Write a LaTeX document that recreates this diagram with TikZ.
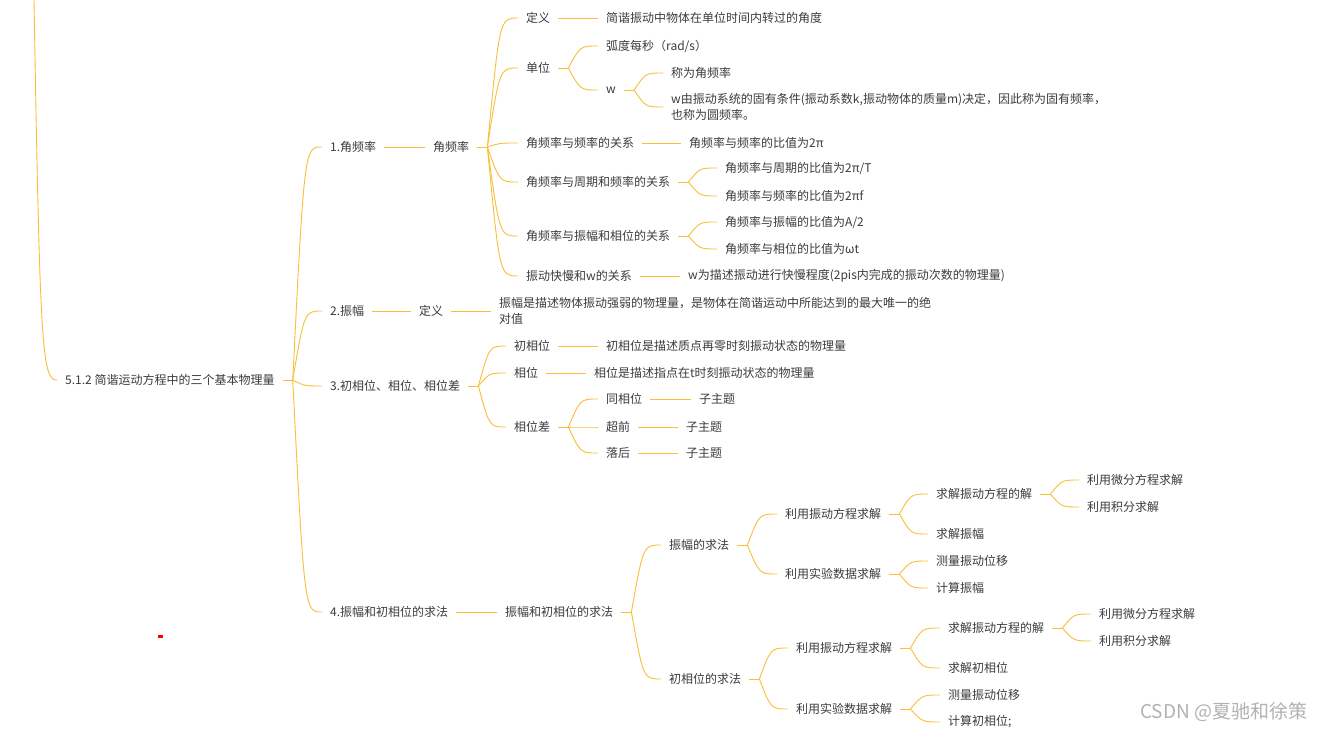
\documentclass[tikz,border=0pt]{standalone}
\usepackage{fontspec}
\setmainfont{Noto Sans CJK SC}
\usetikzlibrary{calc}
\definecolor{lc}{RGB}{250,190,56}
\definecolor{txt}{HTML}{3C3C3C}
\definecolor{wm}{RGB}{178,178,178}
\tikzset{
  nd/.style={anchor=west, xshift=-8pt, inner xsep=8pt, inner ysep=2pt, text=txt,
    font=\fontsize{12}{16.5}\selectfont, align=left},
  ln/.style={draw=lc, line width=0.9pt},
  br/.style={to path={let \p1=(\tikztostart), \p2=(\tikztotarget) in
    .. controls ({\x1+0.4*(\x2-\x1)},\y2) .. (\tikztotarget)}}
}
\newcommand\mmfork[2]{%
  \draw[ln] (#1.east) -- ++(10,0) coordinate (#1j);
  \foreach \c in {#2} {\draw[ln] (#1j) to[br] (\c.west);}
}
\newcommand\mmline[2]{\draw[ln] (#1.east) -- (#2.west);}
\begin{document}
\begin{tikzpicture}[x=1pt,y=-1pt]
\useasboundingbox (0,0) rectangle (1326,730);
\fill[white] (0,0) rectangle (1326,730);

% root and its parent line
\node[nd] (root) at (65,380) {5.1.2 简谐运动方程中的三个基本物理量};
\coordinate (top) at (34,0);
\draw[ln] (top) .. controls (40,350) and (42,380) .. (root.west);

% level 1
\node[nd] (a1) at (330,147) {1.角频率};
\node[nd] (a2) at (330,311) {2.振幅};
\node[nd] (a3) at (330,386) {3.初相位、相位、相位差};
\node[nd] (a4) at (330,612) {4.振幅和初相位的求法};
\mmfork{root}{a1,a2,a3,a4}

% 1. angular frequency
\node[nd] (b1) at (433,147) {角频率};
\mmline{a1}{b1}
\node[nd] (c1) at (526,18) {定义};
\node[nd] (c2) at (526,68) {单位};
\node[nd] (c3) at (526,143) {角频率与频率的关系};
\node[nd] (c4) at (526,182) {角频率与周期和频率的关系};
\node[nd] (c5) at (526,236) {角频率与振幅和相位的关系};
\node[nd] (c6) at (526,276) {振动快慢和w的关系};
\mmfork{b1}{c1,c2,c3,c4,c5,c6}
\node[nd] (d1) at (606,18) {简谐振动中物体在单位时间内转过的角度};
\mmline{c1}{d1}
\node[nd] (d2) at (606,46) {弧度每秒（rad/s）};
\node[nd] (d3) at (606,90) {w};
\mmfork{c2}{d2,d3}
\node[nd] (e1) at (671,73) {称为角频率};
\node[nd] (e2) at (671,107) {w由振动系统的固有条件(振动系数k,振动物体的质量m)决定，因此称为固有频率，\\也称为圆频率。};
\mmfork{d3}{e1,e2}
\node[nd] (d4) at (689,143) {角频率与频率的比值为2π};
\mmline{c3}{d4}
\node[nd] (d5) at (725,168) {角频率与周期的比值为2π/T};
\node[nd] (d6) at (725,196) {角频率与频率的比值为2πf};
\mmfork{c4}{d5,d6}
\node[nd] (d7) at (725,222) {角频率与振幅的比值为A/2};
\node[nd] (d8) at (725,249) {角频率与相位的比值为ωt};
\mmfork{c5}{d7,d8}
\node[nd] (d9) at (688,276) {w为描述振动进行快慢程度(2pis内完成的振动次数的物理量)};
\mmline{c6}{d9}

% 2. amplitude
\node[nd] (b2) at (419,311) {定义};
\mmline{a2}{b2}
\node[nd] (f1) at (499,311) {振幅是描述物体振动强弱的物理量，是物体在简谐运动中所能达到的最大唯一的绝\\对值};
\mmline{b2}{f1}

% 3. phases
\node[nd] (g1) at (514,346) {初相位};
\node[nd] (g2) at (514,373) {相位};
\node[nd] (g3) at (514,427) {相位差};
\mmfork{a3}{g1,g2,g3}
\node[nd] (h1) at (606,346) {初相位是描述质点再零时刻振动状态的物理量};
\mmline{g1}{h1}
\node[nd] (h2) at (594,373) {相位是描述指点在t时刻振动状态的物理量};
\mmline{g2}{h2}
\node[nd] (h3) at (606,399) {同相位};
\node[nd] (h4) at (606,427) {超前};
\node[nd] (h5) at (606,453) {落后};
\mmfork{g3}{h3,h4,h5}
\node[nd] (i1) at (699,399) {子主题};
\node[nd] (i2) at (686,427) {子主题};
\node[nd] (i3) at (686,453) {子主题};
\mmline{h3}{i1}
\mmline{h4}{i2}
\mmline{h5}{i3}

% 4. methods
\node[nd] (b4) at (505,612) {振幅和初相位的求法};
\mmline{a4}{b4}
\node[nd] (j1) at (669,545) {振幅的求法};
\node[nd] (j2) at (669,679) {初相位的求法};
\mmfork{b4}{j1,j2}
\node[nd] (k1) at (785,514) {利用振动方程求解};
\node[nd] (k2) at (785,574) {利用实验数据求解};
\mmfork{j1}{k1,k2}
\node[nd] (l1) at (936,494) {求解振动方程的解};
\node[nd] (l2) at (936,534) {求解振幅};
\mmfork{k1}{l1,l2}
\node[nd] (m1) at (1087,480) {利用微分方程求解};
\node[nd] (m2) at (1087,507) {利用积分求解};
\mmfork{l1}{m1,m2}
\node[nd] (l3) at (936,561) {测量振动位移};
\node[nd] (l4) at (936,588) {计算振幅};
\mmfork{k2}{l3,l4}
\node[nd] (k3) at (796,648) {利用振动方程求解};
\node[nd] (k4) at (796,709) {利用实验数据求解};
\mmfork{j2}{k3,k4}
\node[nd] (l5) at (948,628) {求解振动方程的解};
\node[nd] (l6) at (948,668) {求解初相位};
\mmfork{k3}{l5,l6}
\node[nd] (m3) at (1099,614) {利用微分方程求解};
\node[nd] (m4) at (1099,641) {利用积分求解};
\mmfork{l5}{m3,m4}
\node[nd] (l7) at (948,695) {测量振动位移};
\node[nd] (l8) at (948,722) {计算初相位;};
\mmfork{k4}{l7,l8}

% watermark and stray mark
\node[anchor=west, inner sep=0pt, text=wm, font=\fontsize{19}{22}\selectfont] (wmk) at (1140,712) {CSDN @夏驰和徐策};
\fill[red] (158,635) rectangle (163,637.5);
\end{tikzpicture}
\end{document}
